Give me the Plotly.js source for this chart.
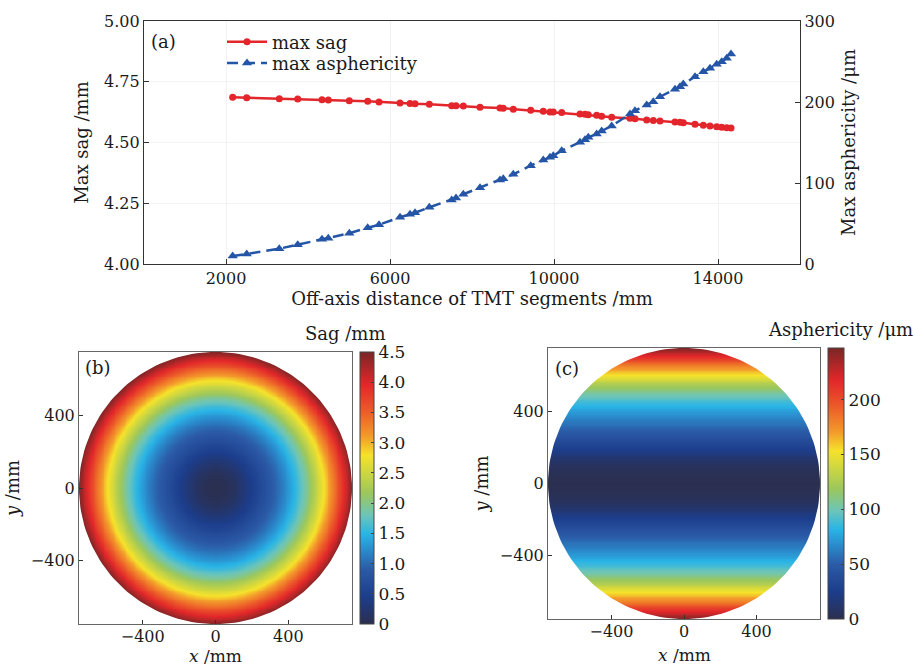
<!DOCTYPE html>
<html><head><meta charset="utf-8">
<script src="https://cdn.plot.ly/plotly-3.0.1.min.js"></script>
<style>html,body{margin:0;padding:0;background:#fff}#chart{width:914px;height:667px}</style>
</head><body><div id="chart"></div>
<script>
// ---- (a) max sag / max asphericity vs off-axis distance ----
const offAxisDistance = [2163, 2505, 3300, 3749, 4341, 4495, 5007, 5456, 5732, 6244,
  6488, 6610, 6959, 7505, 7610, 7788, 8195, 8683, 8763, 9007,
  9432, 9739, 9902, 9983, 10188, 10634, 10756, 10837, 11041, 11163,
  11407, 11854, 11975, 12261, 12422, 12585, 12951, 13073, 13154, 13439,
  13642, 13805, 13968, 14090, 14212, 14317];
const maxSag = [4.686, 4.684, 4.680, 4.679, 4.676, 4.675, 4.672, 4.670, 4.667, 4.663,
  4.660, 4.659, 4.657, 4.651, 4.651, 4.650, 4.645, 4.642, 4.641, 4.637,
  4.633, 4.629, 4.626, 4.626, 4.623, 4.617, 4.616, 4.614, 4.612, 4.608,
  4.604, 4.600, 4.598, 4.593, 4.591, 4.588, 4.584, 4.583, 4.581, 4.575,
  4.571, 4.568, 4.565, 4.563, 4.561, 4.560];
const maxAsphericity = [9.9, 12.3, 18.9, 23.8, 30.5, 31.7, 37.9, 44.8, 48.5, 57.7,
  61.4, 63.3, 70.0, 79.0, 81.5, 86.1, 94.2, 103.7, 105.3, 110.7,
  121.4, 128.4, 131.7, 133.7, 139.9, 150.4, 153.5, 156.4, 160.5, 164.2,
  170.4, 185.2, 189.3, 196.3, 200.4, 206.5, 215.7, 218.9, 222.2, 231.2,
  237.4, 241.6, 246.5, 249.8, 254.0, 259.3];
const sagTicks = [4.00, 4.25, 4.50, 4.75, 5.00];
const asphTicks = [0, 100, 200, 300];
const distTicks = [2000, 6000, 10000, 14000];

// ---- (b) sag map: radial profile ----
const sagRadius  = [0, 50, 100, 150, 200, 250, 300, 350, 400, 450, 500, 550, 600, 650, 700, 750];
const sagProfile = [0, 0.04, 0.12, 0.28, 0.46, 0.66, 0.85, 1.05, 1.30, 1.60, 1.95, 2.40, 2.85, 3.35, 3.90, 4.45];
const sagBarVals = [0, 0.5, 1.0, 1.5, 2.0, 2.5, 3.0, 3.5, 4.0, 4.5];
const sagBarText = ['0', '0.5', '1.0', '1.5', '2.0', '2.5', '3.0', '3.5', '4.0', '4.5'];

// ---- (c) asphericity map: profile across |y| ----
const asphYPos    = [0, 50, 100, 150, 200, 250, 300, 350, 400, 450, 500, 550, 600, 650, 700, 750];
const asphProfile = [0, 2, 6, 15, 28, 40, 52, 62, 73, 87, 104, 125, 153, 178, 214, 245];
const asphBarVals = [0, 50, 100, 150, 200];
const mapTicks = [-400, 0, 400];

const apertureRadius = 750;
const gridStep = 10;

const colorscale = [
  [0.00, '#2b2f4f'], [0.10, '#1c3d8b'], [0.20, '#2b5aa6'], [0.27, '#2a8acb'],
  [0.33, '#29b4e6'], [0.40, '#6cc5b8'], [0.48, '#9cc75c'], [0.55, '#c9d543'],
  [0.62, '#f5e22b'], [0.69, '#f39a2b'], [0.78, '#ec5d29'], [0.88, '#e2272a'],
  [1.00, '#7a2626']];

function profileAt(pos, vals, d) {
  if (d >= pos[pos.length - 1]) return vals[vals.length - 1];
  for (let i = 1; i < pos.length; i++) {
    if (d <= pos[i]) {
      const t = (d - pos[i - 1]) / (pos[i] - pos[i - 1]);
      return vals[i - 1] + t * (vals[i] - vals[i - 1]);
    }
  }
}
const gridCoords = [];
for (let v = -apertureRadius; v <= apertureRadius; v += gridStep) gridCoords.push(v);
const sagZ = [], asphZ = [];
for (const yy of gridCoords) {
  const rowS = [], rowA = [];
  for (const xx of gridCoords) {
    rowS.push(profileAt(sagRadius, sagProfile, Math.hypot(xx, yy)));
    rowA.push(profileAt(asphYPos, asphProfile, Math.abs(yy)));
  }
  sagZ.push(rowS); asphZ.push(rowA);
}

// white mask outside the circular aperture (four corner pieces)
function apertureMask() {
  const R = apertureRadius, E = apertureRadius * 1.05, mx = [], my = [];
  const corners = [[1, 1], [-1, 1], [-1, -1], [1, -1]];
  for (const [sx, sy] of corners) {
    mx.push(0); my.push(sy * E);
    mx.push(sx * E); my.push(sy * E);
    mx.push(sx * E); my.push(0);
    for (let k = 0; k <= 45; k++) {
      const a = (Math.PI / 2) * k / 45;
      mx.push(sx * R * Math.cos(a)); my.push(sy * R * Math.sin(a));
    }
    mx.push(null); my.push(null);
  }
  return { x: mx, y: my };
}
const mask = apertureMask();

const W = 914, H = 667;
const px = v => v / W, py = v => 1 - v / H;
const FONT = 'DejaVu Serif, Liberation Serif, serif';
const TXT = '#1a1a1a';

const traces = [
  { x: offAxisDistance, y: maxSag, name: 'max sag', type: 'scatter', mode: 'lines+markers',
    xaxis: 'x', yaxis: 'y', legend: 'legend',
    line: { color: '#e3262c', width: 2.5 }, marker: { symbol: 'circle', size: 7, color: '#e3262c' } },
  { x: offAxisDistance, y: maxAsphericity, name: 'max asphericity', type: 'scatter', mode: 'lines+markers',
    xaxis: 'x', yaxis: 'y2', legend: 'legend2',
    line: { color: '#2455a6', width: 2.5, dash: '11px,6px' }, marker: { symbol: 'triangle-up', size: 9, color: '#2455a6' } },
  { type: 'heatmap', x: gridCoords, y: gridCoords, z: sagZ, xaxis: 'x2', yaxis: 'y3',
    colorscale: colorscale, zmin: 0, zmax: 4.5, zsmooth: 'best', showlegend: false, hoverinfo: 'skip',
    colorbar: { x: px(360), xanchor: 'left', y: py(488), yanchor: 'middle', len: 272 / H, lenmode: 'fraction',
      thickness: 14, outlinecolor: '#444', outlinewidth: 1, ticks: 'inside', ticklen: 3, tickcolor: '#444',
      tickvals: sagBarVals, ticktext: sagBarText, tickfont: { size: 17, family: FONT, color: TXT }, xpad: 0, ypad: 0 } },
  { type: 'scatter', mode: 'lines', x: mask.x, y: mask.y, xaxis: 'x2', yaxis: 'y3', fill: 'toself',
    fillcolor: '#ffffff', line: { width: 0, color: 'rgba(0,0,0,0)' }, showlegend: false, hoverinfo: 'skip' },
  { type: 'heatmap', x: gridCoords, y: gridCoords, z: asphZ, xaxis: 'x3', yaxis: 'y4',
    colorscale: colorscale, zmin: 0, zmax: 247, zsmooth: 'best', showlegend: false, hoverinfo: 'skip',
    colorbar: { x: px(828), xanchor: 'left', y: py(483.5), yanchor: 'middle', len: 271 / H, lenmode: 'fraction',
      thickness: 16, outlinecolor: '#444', outlinewidth: 1, ticks: 'inside', ticklen: 3, tickcolor: '#444',
      tickvals: asphBarVals, tickfont: { size: 17, family: FONT, color: TXT }, xpad: 0, ypad: 0 } },
  { type: 'scatter', mode: 'lines', x: mask.x, y: mask.y, xaxis: 'x3', yaxis: 'y4', fill: 'toself',
    fillcolor: '#ffffff', line: { width: 0, color: 'rgba(0,0,0,0)' }, showlegend: false, hoverinfo: 'skip' }
];

const baseAxis = { showline: true, linecolor: '#333', linewidth: 1.2, ticks: 'inside', ticklen: 5,
  tickcolor: '#333', zeroline: false, automargin: false, tickfont: { size: 16, family: FONT, color: TXT } };
const mapAxis = Object.assign({}, baseAxis, { linecolor: '#666', linewidth: 1, mirror: true, showgrid: false,
  range: [-apertureRadius, apertureRadius], tickvals: mapTicks, ticklen: 4 });
const legendBase = { xanchor: 'left', yanchor: 'top', bgcolor: 'rgba(0,0,0,0)',
  font: { size: 18, family: FONT, color: TXT }, itemwidth: 40 };

const layout = {
  width: W, height: H, margin: { l: 0, r: 0, t: 0, b: 0 },
  paper_bgcolor: '#fff', plot_bgcolor: '#fff',
  font: { family: FONT, size: 16, color: TXT },
  showlegend: true,
  legend: Object.assign({}, legendBase, { x: px(222), y: py(23.5) }),
  legend2: Object.assign({}, legendBase, { x: px(222), y: py(44.7) }),
  xaxis: Object.assign({}, baseAxis, { domain: [px(144), px(800)], anchor: 'y', range: [0, 16000],
    tickvals: distTicks, tickformat: 'd', mirror: true, showgrid: true, gridcolor: '#f2f2f2',
    title: { text: 'Off-axis distance of TMT segments /mm', font: { size: 18, family: FONT, color: TXT }, standoff: 5 } }),
  yaxis: Object.assign({}, baseAxis, { domain: [py(264), py(21)], anchor: 'x', range: [4, 5],
    tickvals: sagTicks, tickformat: '.2f', showgrid: true, gridcolor: '#f2f2f2',
    title: { text: 'Max sag /mm', font: { size: 18, family: FONT, color: TXT }, standoff: 10 } }),
  yaxis2: Object.assign({}, baseAxis, { overlaying: 'y', side: 'right', anchor: 'x', range: [0, 300],
    tickvals: asphTicks, showgrid: false,
    title: { text: 'Max asphericity /μm', font: { size: 18, family: FONT, color: TXT }, standoff: 8 } }),
  xaxis2: Object.assign({}, mapAxis, { domain: [px(79), px(352)], anchor: 'y3', ticklabelstandoff: -2 }),
  yaxis3: Object.assign({}, mapAxis, { domain: [py(624), py(352)], anchor: 'x2',
    title: { text: '<i>y</i> /mm', font: { size: 18, family: FONT, color: TXT }, standoff: 6 } }),
  xaxis3: Object.assign({}, mapAxis, { domain: [px(548), px(820)], anchor: 'y4', ticklabelstandoff: -2 }),
  yaxis4: Object.assign({}, mapAxis, { domain: [py(619), py(348)], anchor: 'x3',
    title: { text: '<i>y</i> /mm', font: { size: 18, family: FONT, color: TXT }, standoff: 6 } }),
  annotations: [
    { text: '(a)', x: px(149), y: py(42), xref: 'paper', yref: 'paper', xanchor: 'left', yanchor: 'middle', showarrow: false, font: { size: 18 } },
    { text: '(b)', x: px(83), y: py(367), xref: 'paper', yref: 'paper', xanchor: 'left', yanchor: 'middle', showarrow: false, font: { size: 18 } },
    { text: '(c)', x: px(553), y: py(368), xref: 'paper', yref: 'paper', xanchor: 'left', yanchor: 'middle', showarrow: false, font: { size: 18 } },
    { text: 'Sag /mm', x: px(345), y: py(333), xref: 'paper', yref: 'paper', xanchor: 'center', yanchor: 'middle', showarrow: false, font: { size: 18 } },
    { text: 'Asphericity /μm', x: px(840), y: py(330), xref: 'paper', yref: 'paper', xanchor: 'center', yanchor: 'middle', showarrow: false, font: { size: 18 } },
    { text: '<i>x</i> /mm', x: px(215), y: 0, xref: 'paper', yref: 'paper', xanchor: 'center', yanchor: 'bottom', yshift: -1, showarrow: false, font: { size: 17 } },
    { text: '<i>x</i> /mm', x: px(684), y: py(655), xref: 'paper', yref: 'paper', xanchor: 'center', yanchor: 'middle', showarrow: false, font: { size: 17 } }
  ]
};

Plotly.newPlot('chart', traces, layout, { displayModeBar: false, staticPlot: true });
</script></body></html>
